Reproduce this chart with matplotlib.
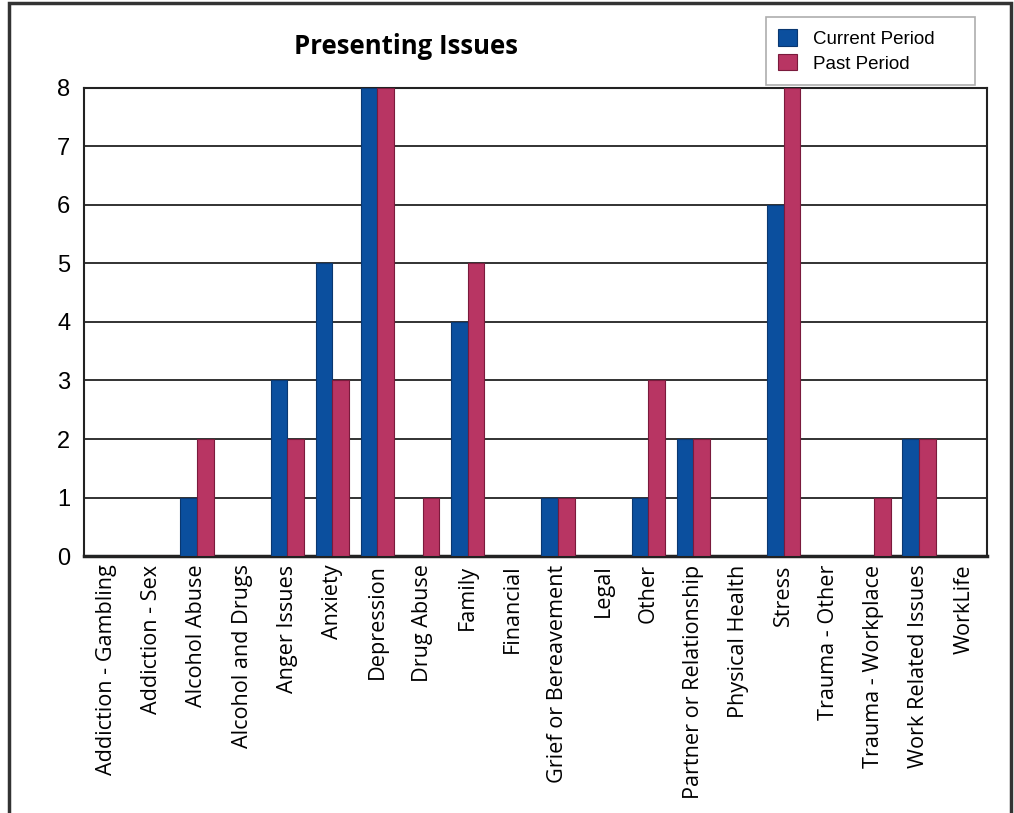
import matplotlib
matplotlib.use("Agg")
from matplotlib import pyplot as plt
from matplotlib.patches import Rectangle
import numpy as np

categories = ["Addiction - Gambling", "Addiction - Sex", "Alcohol Abuse", "Alcohol and Drugs",
              "Anger Issues", "Anxiety", "Depression", "Drug Abuse", "Family", "Financial",
              "Grief or Bereavement", "Legal", "Other", "Partner or Relationship",
              "Physical Health", "Stress", "Trauma - Other", "Trauma - Workplace",
              "Work Related Issues", "WorkLife"]
current_period = [0, 0, 1, 0, 3, 5, 8, 0, 4, 0, 1, 0, 1, 2, 0, 6, 0, 0, 2, 0]
past_period = [0, 0, 2, 0, 2, 3, 8, 1, 5, 0, 1, 0, 3, 2, 0, 8, 0, 1, 2, 0]
yticks = [0, 1, 2, 3, 4, 5, 6, 7, 8]

blue = "#0b4f9e"
red = "#b83563"

fig = plt.figure(figsize=(10.14, 8.13), dpi=100)
ax = fig.add_axes([0.083, 0.316, 0.890, 0.576])

x = np.arange(len(categories))
w = 0.37
ax.bar(x - w / 2, current_period, w, color=blue, edgecolor="#0a3770", linewidth=0.8,
       label="Current Period", zorder=3)
ax.bar(x + w / 2, past_period, w, color=red, edgecolor="#7a1a3c", linewidth=0.8,
       label="Past Period", zorder=3)

ax.set_xlim(-0.5, len(categories) - 0.5)
ax.set_ylim(0, 8)
ax.set_yticks(yticks)
ax.set_yticklabels([str(t) for t in yticks], fontsize=17, family="Liberation Sans")
ax.yaxis.grid(True, color="#222222", linewidth=1.3, zorder=0)
ax.tick_params(axis="y", length=0, pad=10)
ax.tick_params(axis="x", length=0, pad=6)
ax.set_xticks(x)
ax.set_xticklabels(categories, rotation=90, fontsize=15.6, family="Open Sans")
for s in ax.spines.values():
    s.set_color("#222222")
    s.set_linewidth(1.5)
ax.spines["bottom"].set_linewidth(2.5)

fig.text(0.40, 0.943, "Presenting Issues", ha="center", va="center", fontsize=18.5,
         fontweight="bold", family="Open Sans")

leg = fig.legend(loc="upper left", bbox_to_anchor=(0.755, 0.898, 0.207, 0.081),
                 mode="expand", prop={"family": "Liberation Sans", "size": 13.5},
                 frameon=True, fancybox=False, edgecolor="#999999", borderpad=0.65,
                 handlelength=1.0, handleheight=1.0, handletextpad=0.9,
                 labelspacing=0.3, borderaxespad=0)
leg.get_frame().set_linewidth(1.2)

# outer frame of the chart
fig.patches.append(Rectangle((0.009, -0.01), 0.988, 1.006, transform=fig.transFigure,
                             fill=False, edgecolor="#333333", linewidth=2.5))

plt.savefig("out.png", dpi=100)
